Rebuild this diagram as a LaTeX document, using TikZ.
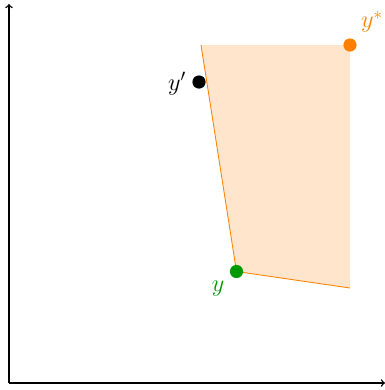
\documentclass[tikz,border=0pt]{standalone}
\usepackage{amsmath,amssymb}
\usepackage{xcolor}
\usetikzlibrary{positioning}

\begin{document}
\begin{tikzpicture}[
    x=0.025cm, y=-0.025cm,
    pt/.style={circle, fill=#1, inner sep=0pt, minimum size=0.33cm},
    pt/.default=black,
    axis/.style={->, line width=1pt},
    lbl/.style={font=\LARGE, text=#1, inner sep=1pt},
    lbl/.default=black
]
    \useasboundingbox (0,0) rectangle (385,390);

    %% --- Axes ---
    \coordinate (O) at (9,383);
    \coordinate (xend) at (385,383);
    \coordinate (yend) at (9,4);
    \draw[axis] (O) -- (xend);
    \draw[axis] (O) -- (yend);

    %% --- Feasible region ---
    \coordinate (tl) at (201,45);
    \coordinate (tr) at (350,45);
    \coordinate (br) at (350,288);
    \coordinate (corner) at (236.5,271.5);
    \fill[orange!20] (tl) -- (corner) -- (br) -- (tr) -- cycle;
    \draw[orange, line width=0.6pt] (tl) -- (corner) -- (br);

    %% --- Points ---
    \node[pt=green!60!black] (y) at (corner) {};
    \node[pt=orange] (ystar) at (350,45) {};
    \node[pt] (yprime) at (199,82) {};

    %% --- Labels ---
    \node[lbl=orange] at (372,22) {$y^*$};
    \node[lbl] at (177,84) {$y'$};
    \node[lbl=green!60!black] at (218,289) {$y$};
\end{tikzpicture}
\end{document}
